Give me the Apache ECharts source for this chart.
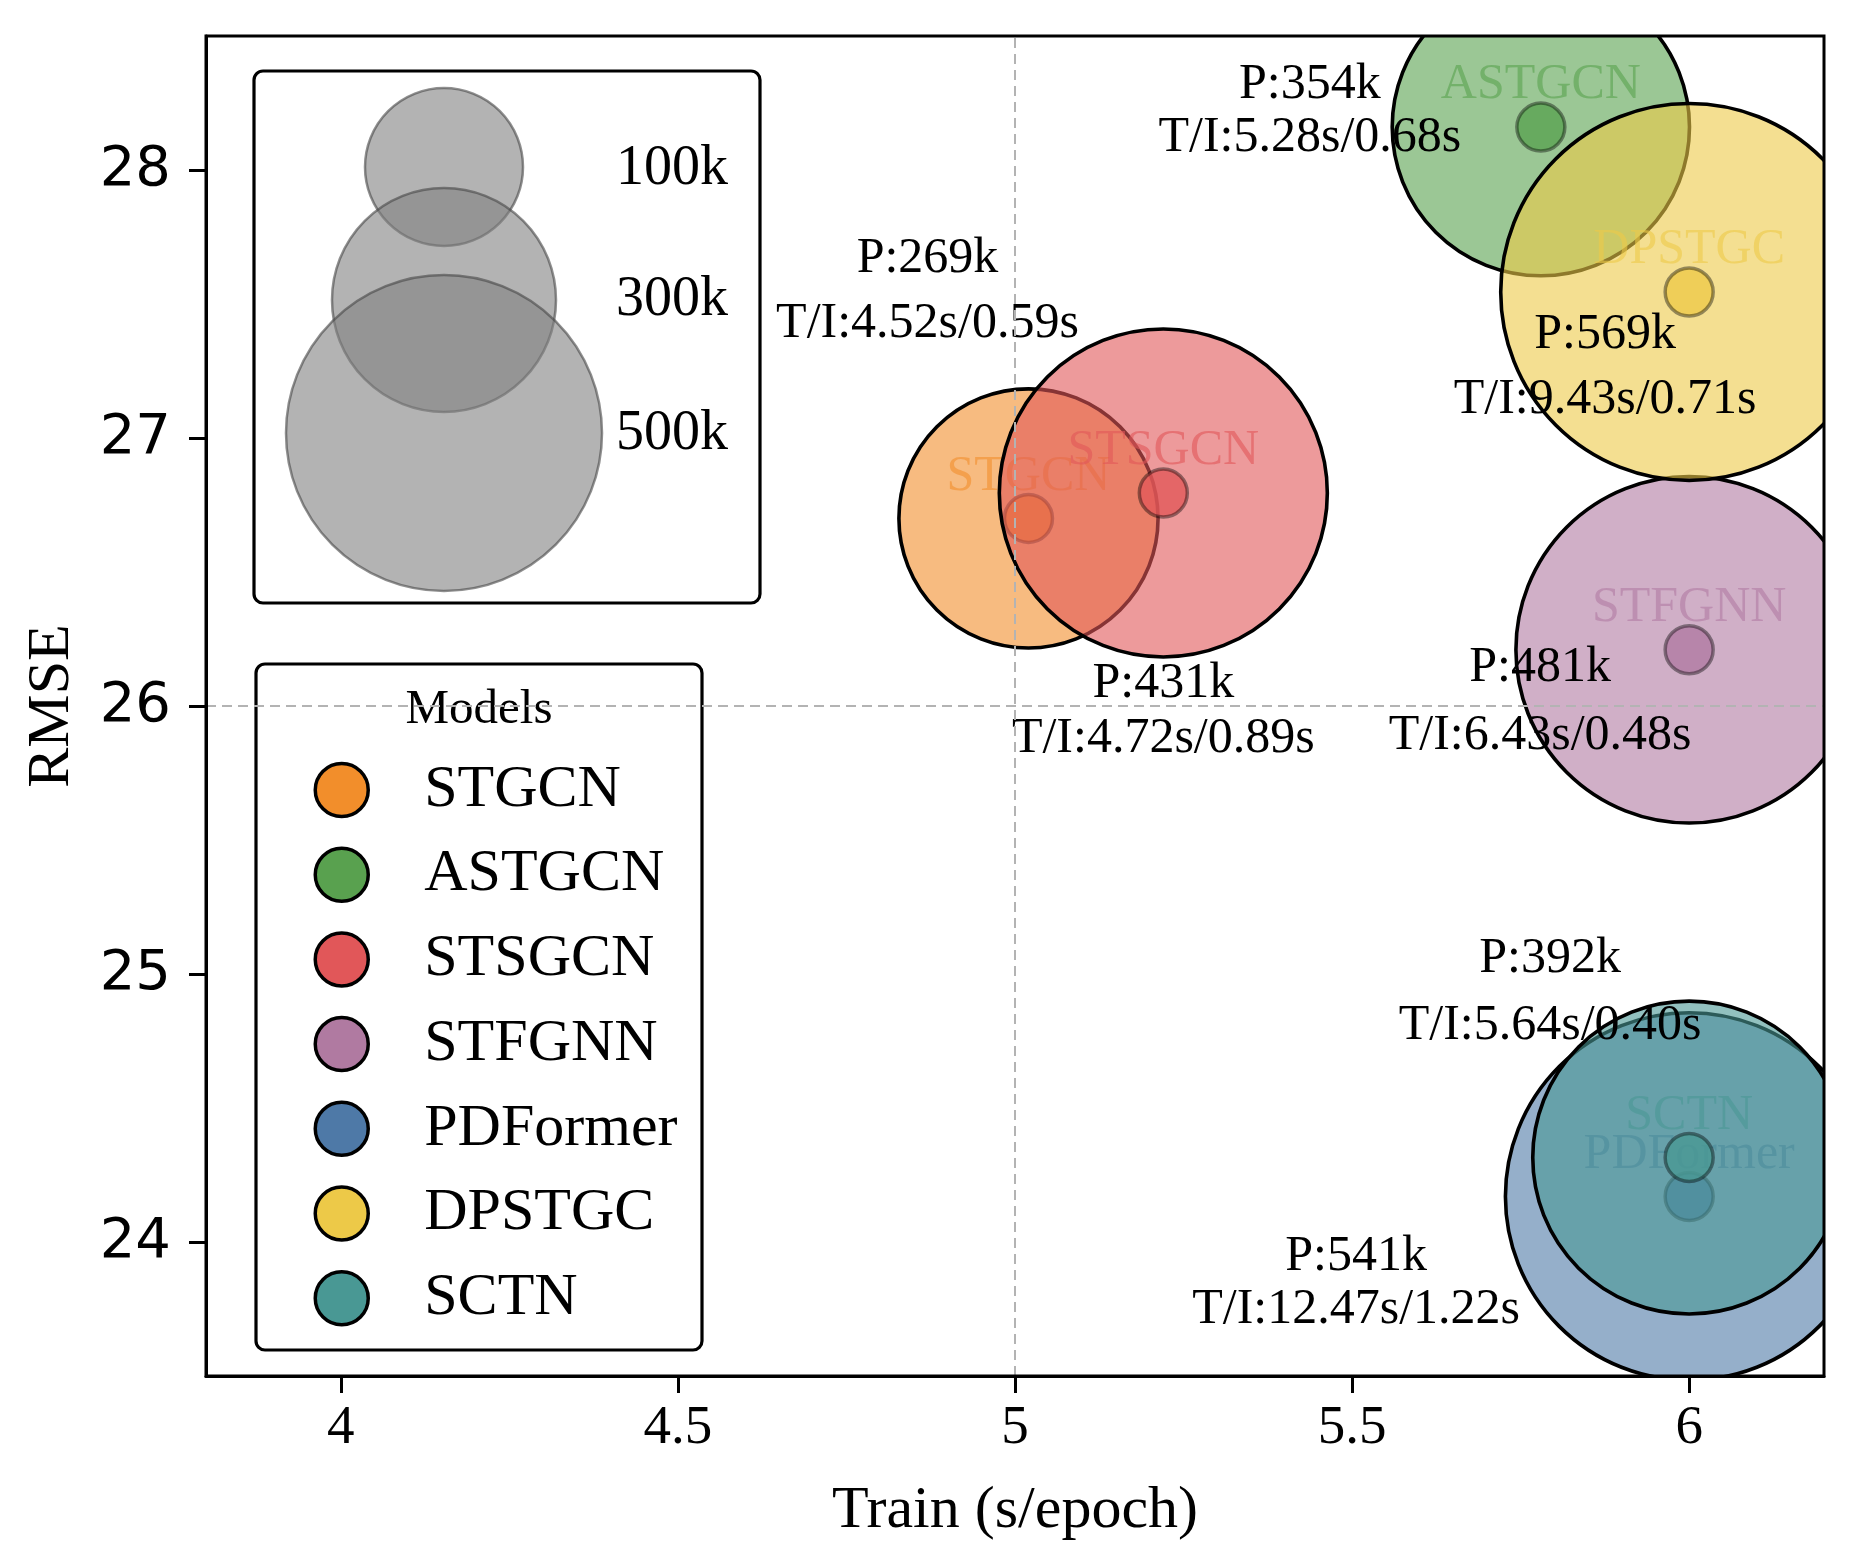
<!DOCTYPE html>
<html><head><meta charset="utf-8">
<script src="https://cdn.jsdelivr.net/npm/echarts@6/dist/echarts.min.js"></script>
<style>html,body{margin:0;padding:0;background:#fff}#c{width:1853px;height:1560px}</style>
</head><body><div id="c"></div>
<script>
// ---------------- data ----------------
const models    = ['STGCN', 'ASTGCN', 'STSGCN', 'STFGNN', 'PDFormer', 'DPSTGC', 'SCTN'];
const trainX    = [5.02, 5.78, 5.22, 6.00, 6.00, 6.00, 6.00];
const rmse      = [26.70, 28.16, 26.795, 26.21, 24.17, 27.545, 24.315];
const paramsK   = [269, 354, 431, 481, 541, 569, 392];
const trainTime = ['4.52', '5.28', '4.72', '6.43', '12.47', '9.43', '5.64'];
const inferTime = ['0.59', '0.68', '0.89', '0.48', '1.22', '0.71', '0.40'];
const xTicks    = [4, 4.5, 5, 5.5, 6];
const yTicks    = [24, 25, 26, 27, 28];
const sizeLegendK = [100, 300, 500];
const refX = 5, refY = 26;

// ---------------- styles ----------------
const SERIF = "'Liberation Serif', 'Times New Roman', serif";
const SANS = "'DejaVu Sans', sans-serif";
const colors = ['#F28E2B', '#59A14F', '#E15759', '#B07AA1', '#4E79A7', '#EDC948', '#499894'];
const RADIUS_PER_SQRT_K = 7.9;
const DOT_R = 24;
const NAME_DY = -42;
// [dx, dy of "P:" line, dy of "T/I:" line] relative to point, px
const annotOffsets = [
  [-101, -260, -195],
  [-231, -42, 11],
  [0, 191, 246],
  [-149, 18, 86],
  [-333, 60, 113],
  [-84, 43, 108],
  [-139, -199, -132]
];
function rgba(hex, a) {
  const n = parseInt(hex.slice(1), 16);
  return 'rgba(' + ((n >> 16) & 255) + ',' + ((n >> 8) & 255) + ',' + (n & 255) + ',' + a + ')';
}

const chart = echarts.init(document.getElementById('c'));

const series = [{
  type: 'line', data: [], z: 1, silent: true,
  markLine: {
    silent: true, symbol: ['none', 'none'], label: { show: false },
    lineStyle: { type: [10, 6], color: '#b3b3b3', width: 2 },
    data: [{ xAxis: refX }, { yAxis: refY }]
  }
}];

models.forEach((m, i) => {
  series.push({
    type: 'custom', name: m, clip: true, z: 2,
    itemStyle: { color: colors[i] },
    data: [[trainX[i], rmse[i], paramsK[i]]],
    renderItem: (params, api) => {
      const c = api.coord([api.value(0), api.value(1)]);
      const r = RADIUS_PER_SQRT_K * Math.sqrt(api.value(2));
      const o = annotOffsets[i];
      const black = { fontFamily: SERIF, fontSize: 50, fill: '#000', align: 'center', verticalAlign: 'middle' };
      return {
        type: 'group', children: [
          { type: 'circle', shape: { cx: c[0], cy: c[1], r: r }, style: { fill: rgba(colors[i], 0.6), stroke: '#000', lineWidth: 3.6 } },
          { type: 'circle', shape: { cx: c[0], cy: c[1], r: DOT_R }, style: { fill: rgba(colors[i], 0.78), stroke: 'rgba(0,0,0,0.4)', lineWidth: 3.5 } },
          { type: 'text', x: c[0], y: c[1] + NAME_DY, style: { text: m, fontFamily: SERIF, fontSize: 50, fill: rgba(colors[i], 0.6), align: 'center', verticalAlign: 'middle' } },
          { type: 'text', x: c[0] + o[0], y: c[1] + o[1], style: Object.assign({ text: 'P:' + paramsK[i] + 'k' }, black) },
          { type: 'text', x: c[0] + o[0], y: c[1] + o[2], style: Object.assign({ text: 'T/I:' + trainTime[i] + 's/' + inferTime[i] + 's' }, black) }
        ]
      };
    }
  });
});

// size legend graphics
const sizeLegendCircles = [
  { cx: 444, cy: 167, r: 79 },
  { cx: 444, cy: 300, r: 112 },
  { cx: 444, cy: 433, r: 158 }
];
const sizeLegendLabelY = [169, 300, 434];
const graphics = [
  { type: 'rect', z: 3, shape: { x: 254, y: 71, width: 506, height: 532, r: 9 }, style: { fill: '#fff', stroke: '#000', lineWidth: 3.2 } },
  { type: 'rect', z: 3, shape: { x: 256, y: 664, width: 446, height: 686, r: 9 }, style: { fill: '#fff', stroke: '#000', lineWidth: 3.2 } },
  { type: 'text', z: 5, x: 479, y: 710, style: { text: 'Models', fontFamily: SERIF, fontSize: 49, fill: '#000', align: 'center', verticalAlign: 'middle' } }
];
sizeLegendK.forEach((k, j) => {
  const s = sizeLegendCircles[j];
  graphics.push({ type: 'circle', z: 4, shape: s, style: { fill: 'rgba(128,128,128,0.6)', stroke: 'rgba(70,70,70,0.6)', lineWidth: 2.5 } });
  graphics.push({ type: 'text', z: 4, x: 616, y: sizeLegendLabelY[j], style: { text: k + 'k', fontFamily: SERIF, fontSize: 56, fill: '#000', align: 'left', verticalAlign: 'middle' } });
});

chart.setOption({
  animation: false,
  backgroundColor: '#fff',
  grid: { left: 206, right: 29, top: 36, bottom: 184, show: true, borderColor: '#000', borderWidth: 3, backgroundColor: 'transparent', z: 10, outerBoundsMode: 'none' },
  xAxis: {
    type: 'value', min: 3.8, max: 6.2, z: 10,
    name: 'Train (s/epoch)', nameLocation: 'middle', nameGap: 105,
    nameTextStyle: { fontFamily: SERIF, fontSize: 60, color: '#000' },
    axisLine: { show: true, onZero: false, lineStyle: { color: '#000', width: 3 } },
    axisTick: { show: true, inside: false, length: 17, customValues: xTicks, lineStyle: { color: '#000', width: 3 } },
    axisLabel: { customValues: xTicks, fontFamily: SERIF, fontSize: 55, color: '#000', margin: 25, formatter: v => String(v) },
    splitLine: { show: false }
  },
  yAxis: {
    type: 'value', min: 23.5, max: 28.5, z: 10,
    name: 'RMSE', nameLocation: 'middle', nameGap: 124, nameRotate: 90,
    nameTextStyle: { fontFamily: SERIF, fontSize: 60, color: '#000' },
    axisLine: { show: true, onZero: false, lineStyle: { color: '#000', width: 3 } },
    axisTick: { show: true, inside: false, length: 17, customValues: yTicks, lineStyle: { color: '#000', width: 3 } },
    axisLabel: { customValues: yTicks, fontFamily: SANS, fontSize: 56, color: '#000', margin: 35, formatter: v => String(v) },
    splitLine: { show: false }
  },
  legend: {
    orient: 'vertical', left: 313.5, top: 760, z: 6, padding: 0,
    icon: 'circle', itemWidth: 53, itemHeight: 53, itemGap: 24.7,
    itemStyle: { borderColor: '#000', borderWidth: 3.5 },
    textStyle: { fontFamily: SERIF, fontSize: 60, color: '#000', lineHeight: 53, padding: [0, 0, 0, 51] },
    data: models
  },
  graphic: graphics,
  series: series
});
</script>
</body></html>
